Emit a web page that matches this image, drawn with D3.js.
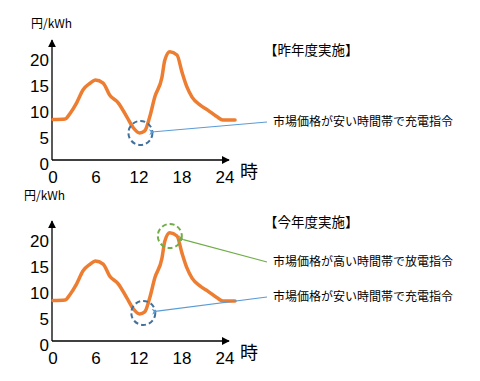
<!DOCTYPE html>
<html>
<head>
<meta charset="utf-8">
<script src="https://cdn.jsdelivr.net/npm/d3@7"></script>
<style>
  body { margin: 0; background: #fff; }
  text { font-family: "Noto Sans CJK JP", "Noto Sans", sans-serif; }
</style>
</head>
<body>
<div id="chart"></div>
<script>
var width = 480, height = 381;

// price curve (same in both panels)
var hours  = [0, 1.7, 2.4, 3.3, 4.2, 5.2, 5.9, 7.0, 7.9, 9.1, 10.3, 11.2, 12.1, 12.8, 13.5, 14.2, 15.2, 15.6, 16.3, 17.3, 18.0, 18.7, 19.4, 20.5, 21.6, 22.9, 23.7, 25.4];
var prices = [7.8, 7.9, 9.0, 11.0, 13.5, 14.8, 15.4, 14.8, 12.5, 11.0, 8.3, 6.2, 5.2, 5.6, 8.3, 12.1, 15.9, 19.2, 20.8, 20.2, 16.9, 14.0, 12.1, 10.6, 9.6, 8.3, 7.7, 7.7];

var xTicks = [0, 6, 12, 18, 24];
var yTicks = [0, 5, 10, 15, 20];

var panelTitles = ["【昨年度実施】", "【今年度実施】"];

// annotations: panel index, circle position (hour, price), label
var notePanel = [0, 1, 1];
var noteHour  = [12.2, 16.3, 12.6];
var notePrice = [5.2, 20.2, 5.4];
var noteText  = ["市場価格が安い時間帯で充電指令", "市場価格が高い時間帯で放電指令", "市場価格が安い時間帯で充電指令"];
var noteKind  = ["charge", "discharge", "charge"];
var noteTextY = [122, 81, 116]; // label rows, relative to panel

var circleColor = {charge: "#41719C", discharge: "#70AD47"};
var lineColor = {charge: "#5B9BD5", discharge: "#70AD47"};

var x = d3.scaleLinear().domain([0, 24]).range([53, 225]);
var y = d3.scaleLinear().domain([0, 20]).range([160, 56]);

var svg = d3.select("#chart").append("svg")
    .attr("width", width)
    .attr("height", height);

var defs = svg.append("defs");
defs.append("marker")
    .attr("id", "axisHead")
    .attr("viewBox", "0 0 10 10")
    .attr("refX", 9).attr("refY", 5)
    .attr("markerWidth", 8).attr("markerHeight", 8)
    .attr("markerUnits", "userSpaceOnUse")
    .attr("orient", "auto")
  .append("path")
    .attr("d", "M0,0L10,5L0,10z")
    .attr("fill", "#000");

["charge", "discharge"].forEach(function(k) {
  defs.append("marker")
      .attr("id", "head-" + k)
      .attr("viewBox", "0 0 10 10")
      .attr("refX", 1).attr("refY", 5)
      .attr("markerWidth", 7).attr("markerHeight", 6)
      .attr("markerUnits", "userSpaceOnUse")
      .attr("orient", "auto-start-reverse")
    .append("path")
      .attr("d", "M0,5L10,0L7,5L10,10z")
      .attr("fill", lineColor[k]);
});

var line = d3.line()
    .curve(d3.curveMonotoneX)
    .x(function(d) { return x(d[0]); })
    .y(function(d) { return y(d[1]); });

var curve = hours.map(function(h, i) { return [h, prices[i]]; });

panelTitles.forEach(function(title, p) {
  var g = svg.append("g").attr("transform", "translate(0," + (p * 181) + ")");

  // axes
  g.append("line")
      .attr("x1", x(0) - 1).attr("x2", x(0) - 1)
      .attr("y1", y(0)).attr("y2", y(20) - 16)
      .attr("stroke", "#000").attr("stroke-width", 1.3)
      .attr("marker-end", "url(#axisHead)");
  g.append("line")
      .attr("x1", x(0) - 1).attr("x2", x(24) + 4)
      .attr("y1", y(0)).attr("y2", y(0))
      .attr("stroke", "#000").attr("stroke-width", 1.3)
      .attr("marker-end", "url(#axisHead)");

  g.selectAll(".ytick").data(yTicks).enter().append("text")
      .attr("x", x(0) - 4)
      .attr("y", function(d) { return y(d) + 4; })
      .attr("dy", "0.35em")
      .attr("text-anchor", "end")
      .style("font-family", "'Liberation Sans', sans-serif")
      .style("font-size", "17px")
      .text(function(d) { return d; });

  g.selectAll(".xtick").data(xTicks).enter().append("text")
      .attr("x", function(d) { return x(d); })
      .attr("y", y(0) + 17)
      .attr("dy", "0.35em")
      .attr("text-anchor", "middle")
      .style("font-family", "'Liberation Sans', sans-serif")
      .style("font-size", "17px")
      .text(function(d) { return d; });

  g.append("text")
      .attr("x", x(24) + 15).attr("y", y(0) + 12)
      .attr("dy", "0.35em")
      .style("font-size", "18px")
      .text("時");

  g.append("text")
      .attr("x", x(0) - 22 - p * 7).attr("y", 24 - p * 9)
      .attr("dy", "0.35em")
      .style("font-size", "12px")
      .text("円/kWh");

  g.append("text")
      .attr("x", 264).attr("y", 50 - p * 9)
      .attr("dy", "0.35em")
      .style("font-size", "13.5px")
      .text(title);

  g.append("path")
      .datum(curve)
      .attr("d", line)
      .attr("fill", "none")
      .attr("stroke", "#ED7D31")
      .attr("stroke-width", 3.5)
      .attr("stroke-linejoin", "round")
      .attr("stroke-linecap", "round");

  notePanel.forEach(function(np, i) {
    if (np !== p) return;
    var cx = x(noteHour[i]), cy = y(notePrice[i]), r = 12;
    var tx = 267, ty = noteTextY[i];
    var ang = Math.atan2(ty - cy, tx - cx);
    g.append("circle")
        .attr("cx", cx).attr("cy", cy).attr("r", r)
        .attr("fill", "none")
        .attr("stroke", circleColor[noteKind[i]])
        .attr("stroke-width", 2)
        .attr("stroke-dasharray", "5,3");
    g.append("line")
        .attr("x1", cx + (r + 2) * Math.cos(ang)).attr("y1", cy + (r + 2) * Math.sin(ang))
        .attr("x2", tx).attr("y2", ty)
        .attr("stroke", lineColor[noteKind[i]])
        .attr("stroke-width", 1.2)
        .attr("marker-start", "url(#head-" + noteKind[i] + ")");
    g.append("text")
        .attr("x", 273).attr("y", ty)
        .attr("dy", "0.35em")
        .style("font-size", "12px")
        .text(noteText[i]);
  });
});
</script>
</body>
</html>
